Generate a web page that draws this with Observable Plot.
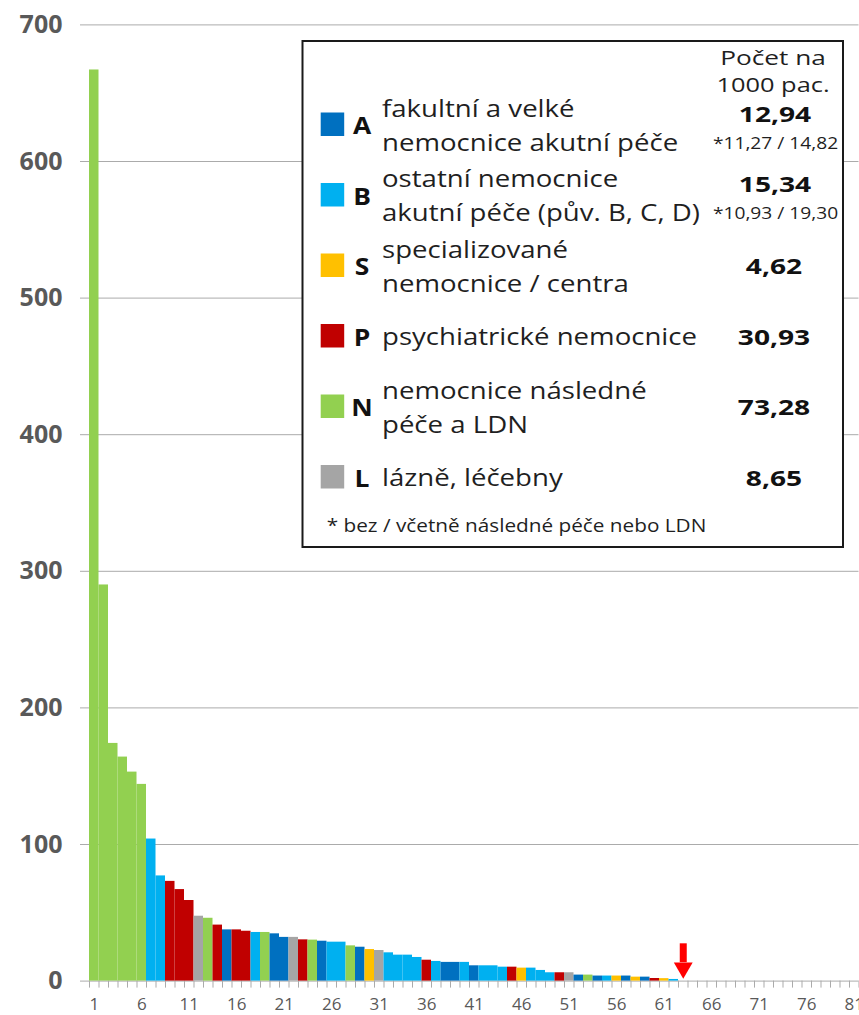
<!DOCTYPE html>
<html>
<head>
<meta charset="utf-8">
<script src="https://cdn.jsdelivr.net/npm/d3@7"></script>
<script src="https://cdn.jsdelivr.net/npm/@observablehq/plot@0.6"></script>
<style>
  html, body { margin: 0; padding: 0; background: #fff; }
  #wrap { position: relative; width: 859px; height: 1015px; overflow: hidden; }
  #wrap svg { display: block; }
  #legend { position: absolute; left: 0; top: 0; }
</style>
</head>
<body>
<div id="wrap"></div>
<script>
// ---------------- DATA ----------------
// Rate per 1000 patients for each hospital (ranked)
const rates = [667, 290, 174, 164, 153, 144, 104, 77, 73, 67,
  59, 47.5, 46, 41, 37.5, 37.5, 36.5, 35.6, 35.6, 34.6,
  32, 32, 30.2, 30, 29.2, 28.5, 28.5, 25.8, 24.8, 23.1,
  22.4, 20.7, 19, 19, 17.3, 15.3, 14.4, 13.7, 13.7, 13.7,
  11.2, 11.2, 11.2, 10.2, 10.2, 9.5, 9.5, 7.8, 6.1, 6.1,
  6.1, 4.4, 4.4, 3.7, 3.7, 3.7, 3.7, 2.9, 2.9, 1.9,
  1.8, 1.2];
// Hospital type of each bar
const types = ["N","N","N","N","N","N","B","B","P","P",
  "P","L","N","P","A","P","P","B","N","A",
  "A","L","P","N","A","B","B","N","A","S",
  "L","B","B","B","B","P","B","A","A","B",
  "A","B","B","B","P","S","B","B","B","P",
  "L","A","N","A","B","S","A","S","A","P",
  "S","B"];
const hospitalCount = 81;                 // number of ranked positions on the x axis
const xTickLabels = [1, 6, 11, 16, 21, 26, 31, 36, 41, 46, 51, 56, 61, 66, 71, 76, 81];
const yTicks = [0, 100, 200, 300, 400, 500, 600, 700];
const markedHospital = [{ hospital: 63, from: 27.3, to: 13.5, tip: 9.7 }]; // red arrow

// Legend content
const legendKeys = ["A", "B", "S", "P", "N", "L"];
const legendLabels = [
  ["fakultní a velké", "nemocnice akutní péče"],
  ["ostatní nemocnice", "akutní péče (pův. B, C, D)"],
  ["specializované", "nemocnice / centra"],
  ["psychiatrické nemocnice"],
  ["nemocnice následné", "péče a LDN"],
  ["lázně, léčebny"]
];
const legendRates = ["12,94", "15,34", "4,62", "30,93", "73,28", "8,65"];
const legendSubRates = ["*11,27 / 14,82", "*10,93 / 19,30", null, null, null, null];
const legendHeader = ["Počet na", "1000 pac."];
const legendNote = "* bez / včetně následné péče nebo LDN";

// ---------------- STYLE ----------------
const typeColors = ["#0070C0", "#00B0F0", "#FFC000", "#C00000", "#92D050", "#A5A5A5"];
const gridColor = "#ababab";
const labelColor = "#595959";

// ---------------- CHART ----------------
const bars = rates.map((v, i) => ({ pos: i + 1, rate: v, type: types[i] }));
const positions = Array.from({ length: hospitalCount }, (_, i) => i + 1);
const boundaries = [0.5, ...positions.map(p => p + 0.5)];

const chart = Plot.plot({
  width: 859,
  height: 1015,
  marginLeft: 89,
  marginRight: 0.5,
  marginTop: 24.4,
  marginBottom: 34.4,
  style: { fontFamily: "'Open Sans', sans-serif", background: "#fff", overflow: "visible" },
  x: { type: "linear", domain: [0.5, hospitalCount + 0.5] },
  y: { domain: [0, 700] },
  color: { domain: legendKeys, range: typeColors },
  marks: [
    Plot.gridY(yTicks, { stroke: gridColor, strokeOpacity: 1 }),
    Plot.axisY(yTicks, {
      tickSize: 9, tickPadding: 18, stroke: gridColor, fill: labelColor,
      fontSize: 25, fontWeight: 700, line: true, label: null, tickFormat: d => String(d)
    }),
    Plot.axisX(boundaries, { tickSize: 7, stroke: gridColor, tickFormat: () => "", label: null }),
    Plot.axisX(xTickLabels, {
      tickSize: 0, tickPadding: 16.5, fill: labelColor, fontSize: 17, label: null, tickFormat: d => String(d)
    }),
    Plot.rectY(bars, { x1: d => d.pos - 0.5, x2: d => d.pos + 0.5, y: "rate", fill: "type" }),
    Plot.ruleX(markedHospital, { x: "hospital", y1: "from", y2: "to", stroke: "#FF0000", strokeWidth: 7 }),
    Plot.dot(markedHospital, { x: "hospital", y: "tip", symbol: "triangle", r: 7, rotate: 180, fill: "#FF0000" })
  ]
});
document.getElementById("wrap").appendChild(chart);

// ---------------- LEGEND (overlay) ----------------
const lg = d3.select("#wrap").append("svg")
  .attr("id", "legend").attr("width", 859).attr("height", 1015)
  .style("font-family", "'Open Sans', sans-serif");

lg.append("rect")
  .attr("x", 302.5).attr("y", 41).attr("width", 540.5).attr("height", 506)
  .attr("fill", "#fff").attr("stroke", "#1a1a1a").attr("stroke-width", 2);

function txt(x, y, str, { size, weight = 400, anchor = "start", sx = 1.2, fill = "#1f1f1f" }) {
  lg.append("text")
    .attr("transform", `translate(${x},${y}) scale(${sx},1)`)
    .attr("font-size", size).attr("font-weight", weight)
    .attr("text-anchor", anchor).attr("fill", fill)
    .text(str);
}

txt(773, 64.5, legendHeader[0], { size: 20.5, anchor: "middle", sx: 1.28 });
txt(773, 92, legendHeader[1], { size: 20.5, anchor: "middle", sx: 1.24 });

const rowTop = 124.2, rowStep = 70.5;
legendKeys.forEach((k, i) => {
  const c = rowTop + rowStep * i;
  lg.append("rect").attr("x", 320.7).attr("y", c - 11.7)
    .attr("width", 23.5).attr("height", 23.5).attr("fill", typeColors[i]);
  txt(362, c + 9.8, k, { size: 24, weight: 700, anchor: "middle", sx: 1.1, fill: "#111" });
  const lines = legendLabels[i];
  if (lines.length === 2) {
    txt(382, c - 7.6, lines[0], { size: 23 });
    txt(382, c + 26.3, lines[1], { size: 23 });
  } else {
    txt(382, c + 9.5, lines[0], { size: 23 });
  }
  if (legendSubRates[i]) {
    txt(775, c - 2.3, legendRates[i], { size: 22, weight: 700, anchor: "middle", sx: 1.28, fill: "#111" });
    txt(775.5, c + 24.4, legendSubRates[i], { size: 16, anchor: "middle" });
  } else {
    txt(774, c + 9, legendRates[i], { size: 22, weight: 700, anchor: "middle", sx: 1.28, fill: "#111" });
  }
});

txt(326.7, 531.7, legendNote, { size: 17.3 });
</script>
</body>
</html>
